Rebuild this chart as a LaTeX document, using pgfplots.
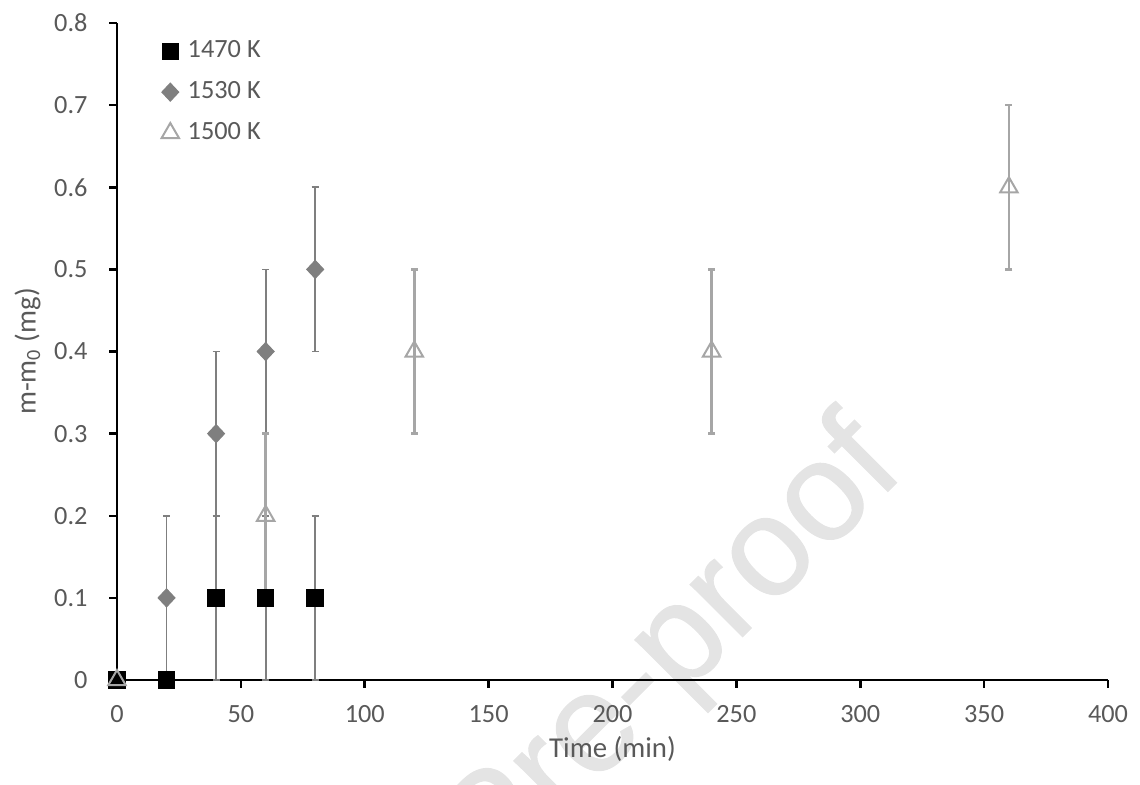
\documentclass[border=0pt]{standalone}
\usepackage{pgfplots}
\pgfplotsset{compat=1.18}
\usepackage{fontspec}
\setmainfont{Carlito}
\newfontfamily\wmfont[FakeBold=0.8]{Liberation Sans}
\definecolor{ticktext}{HTML}{595959}
\definecolor{dgrey}{HTML}{7F7F7F}
\definecolor{lgrey}{HTML}{A6A6A6}
\definecolor{wm}{HTML}{E4E4E4}
\begin{document}
\begin{tikzpicture}
\begin{axis}[
  set layers,
  at={(0,0)}, anchor=south west,
  scale only axis,
  width=13.909cm, height=9.221cm,
  xmin=0, xmax=400, ymin=0, ymax=0.8,
  axis x line=bottom, axis y line=left,
  axis line style={-, line width=1.1pt, black},
  xtick={0,50,...,400},
  ytick={0,0.1,...,0.8},
  tick align=outside,
  major tick length=0.11cm,
  tick style={line width=1pt, black},
  /pgf/number format/assume math mode=true,
  yticklabel style={/pgf/number format/fixed, /pgf/number format/precision=1},
  ticklabel style={font=\fontsize{10.5}{12}\selectfont, text=ticktext},
  xticklabel style={yshift=-0.12cm},
  yticklabel style={xshift=-0.18cm},
  xlabel={Time (min)},
  ylabel={m-m\textsubscript{0} (mg)},
  label style={font=\fontsize{11.5}{13}\selectfont, text=ticktext},
  xlabel style={yshift=0.05cm},
  ylabel style={yshift=-0.05cm},
  clip=false,
  legend style={at={(0.042,0.985)}, anchor=north west, draw=none, fill=none,
    font=\fontsize{10.5}{12}\selectfont, text=ticktext, row sep=4pt,
    inner sep=1pt, nodes={inner xsep=3.5pt}},
  legend cell align=left,
  legend image code/.code={\draw[#1] plot coordinates {(0.18cm,0cm)};},
]
\begin{pgfonlayer}{axis background}
\node[wm, font=\wmfont\fontsize{56}{66}\selectfont, rotate=45] at (axis cs:225,0.032) {Pre-proof};
\end{pgfonlayer}

\addplot[only marks, mark=square*, mark size=3.3pt, black, mark options={fill=black},
  error bars/.cd, y dir=both, y explicit,
  error bar style={dgrey, line width=0.7pt},
  error mark options={rotate=90, dgrey, line width=0.7pt, mark size=1.4pt}]
  table[x=x, y=y, y error=e] {
  x y e
  0 0 0
  20 0 0
  40 0.1 0.1
  60 0.1 0.1
  80 0.1 0.1
};
\addlegendentry{1470 K}

\addplot[only marks, mark=diamond*, mark size=3.6pt, dgrey, mark options={fill=dgrey, draw=dgrey, xscale=1.25},
  error bars/.cd, y dir=both, y explicit,
  error bar style={dgrey, line width=0.7pt},
  error mark options={rotate=90, dgrey, line width=0.7pt, mark size=1.4pt}]
  table[x=x, y=y, y error=e] {
  x y e
  20 0.1 0.1
  40 0.3 0.1
  60 0.4 0.1
  80 0.5 0.1
};
\addlegendentry{1530 K}

\addplot[only marks, mark=triangle, mark size=4pt, lgrey, mark options={fill=white, draw=lgrey, line width=0.8pt},
  error bars/.cd, y dir=both, y explicit,
  error bar style={lgrey, line width=1.1pt},
  error mark options={rotate=90, lgrey, line width=1pt, mark size=1.4pt}]
  table[x=x, y=y, y error=e] {
  x y e
  0 0 0
  60 0.2 0.1
  120 0.4 0.1
  240 0.4 0.1
  360 0.6 0.1
};
\addlegendentry{1500 K}
\end{axis}
\pgfresetboundingbox
\path (-1.642cm,-1.4596cm) rectangle (14.358cm,9.544cm);
\end{tikzpicture}
\end{document}
